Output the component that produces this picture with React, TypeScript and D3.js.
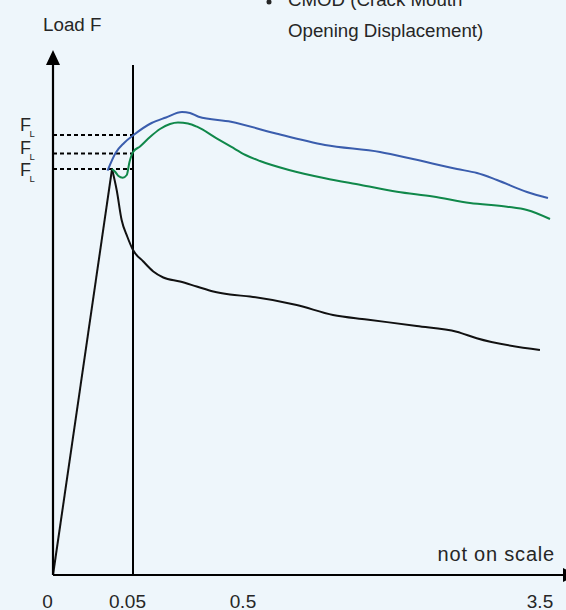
import React from "react";
import * as d3 from "d3";

const W = 566;
const H = 610;

// x axis is "not on scale": piecewise scale through the tick values
const xTicks = [0, 0.05, 0.5, 3.5];
const xTickLabels = ["0", "0.05", "0.5", "3.5"];

// Load levels F_L (dashed reference lines), highest first
const fLevels = [88.0, 84.3, 81.2];

// [CMOD, Load]
const blackCurve: [number, number][] = [
  [0, 0], [0.0369, 81.2], [0.0398, 77.0], [0.0429, 71.0], [0.0464, 67.7],
  [0.0501, 65.0], [0.0901, 62.7], [0.1291, 60.7], [0.168, 59.5], [0.2331, 58.7],
  [0.2982, 57.7], [0.3628, 56.7], [0.4279, 56.1], [0.5152, 55.7], [0.9869, 54.0],
  [1.3535, 52.0], [1.6939, 51.1], [2.199, 49.8], [2.603, 48.66], [2.805, 47.34],
  [3.444, 45.0],
];

const blueCurve: [number, number][] = [
  [0.0341, 80.86], [0.0391, 84.4], [0.0444, 86.4], [0.0523, 88.0], [0.1225, 90.4],
  [0.1786, 91.5], [0.2409, 92.6], [0.2721, 92.4], [0.3056, 91.66], [0.4318, 90.66],
  [0.7576, 88.4], [1.2727, 86.0], [1.8283, 84.6], [2.1616, 83.2], [2.6061, 81.2],
  [2.808, 80.4], [3.01, 79.0], [3.313, 76.6], [3.525, 75.4],
];

const greenCurve: [number, number][] = [
  [0.0367, 81.2], [0.0388, 80.66], [0.0409, 79.8], [0.0436, 79.46], [0.0461, 80.0],
  [0.0478, 82.6], [0.0512, 84.66], [0.0773, 85.7], [0.1162, 87.6], [0.1552, 89.2],
  [0.1942, 90.2], [0.2253, 90.5], [0.2643, 90.3], [0.2993, 89.66], [0.3757, 87.34],
  [0.4318, 85.66], [0.4883, 84.0], [0.6162, 82.8], [0.9091, 81.0], [1.2727, 79.34],
  [1.6364, 78.0], [2.0, 76.66], [2.3636, 75.7], [2.7374, 74.4], [3.1111, 73.66],
  [3.313, 73.0], [3.5455, 71.2],
];

const x = d3.scaleLinear().domain(xTicks).range([53, 133, 248.5, 545.5]);
const y = d3.scaleLinear().domain([0, 100]).range([575, 75]);

const FONT = "'Liberation Sans', Arial, Helvetica, sans-serif";
const TXT = "#262626";
const F_LABEL_TOP = 131;
const F_LABEL_STEP = 22.6;

export default function App() {
  const smooth = d3
    .line<[number, number]>()
    .x((d) => x(d[0]))
    .y((d) => y(d[1]))
    .curve(d3.curveMonotoneX);
  const straight = d3
    .line<[number, number]>()
    .x((d) => x(d[0]))
    .y((d) => y(d[1]));

  const x0 = x(0);
  const y0 = y(0);
  const yTop = y(105);
  const vTop = y(102);
  const xEnd = 563;

  return (
    <svg
      width={W}
      height={H}
      style={{ position: "absolute", left: 0, top: 0, display: "block" }}
      fontFamily={FONT}
    >
      <rect x={0} y={0} width={W} height={H} fill="#EEF6FB" />

      {/* header text (cut at top) */}
      <circle cx={269} cy={2} r={2.5} fill={TXT} />
      <text x={288} y={6} fontSize={18.7} fill={TXT}>CMOD (Crack Mouth</text>
      <text x={288} y={37} fontSize={18.7} fill={TXT}>Opening Displacement)</text>

      <text x={43} y={31} fontSize={18.8} fill={TXT}>Load F</text>

      {/* dashed F_L lines */}
      {fLevels.map((f, i) => (
        <line
          key={i}
          x1={x0}
          x2={x(0.05)}
          y1={y(f)}
          y2={y(f)}
          stroke="#000"
          strokeWidth={2}
          strokeDasharray="4,3"
        />
      ))}
      {fLevels.map((f, i) => {
        const by = F_LABEL_TOP + i * F_LABEL_STEP;
        return (
          <g key={"fl" + i}>
            <text x={20} y={by} fontSize={18} fill={TXT}>F</text>
            <text x={29.5} y={by + 6} fontSize={9.5} fill={TXT}>L</text>
          </g>
        );
      })}

      {/* vertical line at 0.05 */}
      <line x1={x(0.05)} x2={x(0.05)} y1={vTop} y2={y0} stroke="#000" strokeWidth={2} />

      {/* curves */}
      <path d={straight(blackCurve.slice(0, 2)) || ""} fill="none" stroke="#111" strokeWidth={2} />
      <path d={smooth(blackCurve.slice(1)) || ""} fill="none" stroke="#111" strokeWidth={2} />
      <path d={smooth(greenCurve) || ""} fill="none" stroke="#10884A" strokeWidth={2} />
      <path d={smooth(blueCurve) || ""} fill="none" stroke="#3A5DAD" strokeWidth={2} />

      {/* axes */}
      <line x1={x0} x2={x0} y1={y0} y2={yTop + 14} stroke="#000" strokeWidth={2.2} />
      <path d={`M${x0},${yTop} L${x0 - 7},${yTop + 15} L${x0 + 7},${yTop + 15} Z`} fill="#000" />
      <line x1={x0} x2={xEnd} y1={y0} y2={y0} stroke="#000" strokeWidth={2.2} />
      <path d={`M${xEnd + 15},${y0} L${xEnd},${y0 - 7} L${xEnd},${y0 + 7} Z`} fill="#000" />

      <text x={555} y={561} fontSize={20} letterSpacing={0.8} textAnchor="end" fill={TXT}>
        not on scale
      </text>

      {xTicks.map((t, i) => (
        <text key={i} x={x(t) - 5.5} y={608} fontSize={19} textAnchor="middle" fill={TXT}>
          {xTickLabels[i]}
        </text>
      ))}
    </svg>
  );
}
